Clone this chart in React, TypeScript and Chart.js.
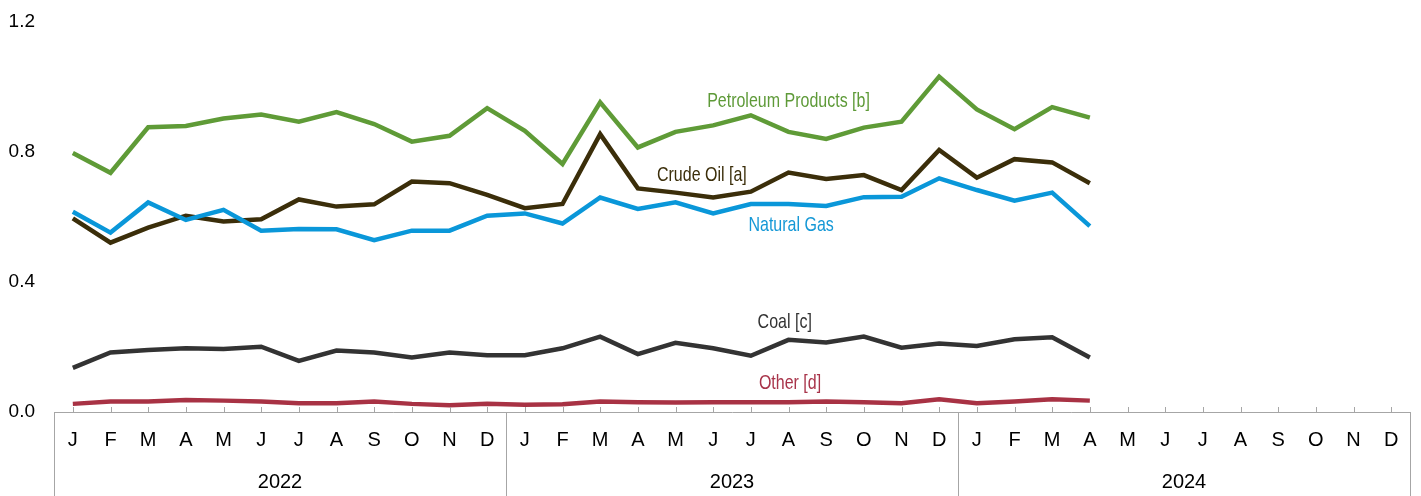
import React, { useEffect, useRef } from 'react';
import { Chart, registerables } from 'chart.js';

Chart.register(...registerables);

// ---------- data ----------
const monthLetters = ['J', 'F', 'M', 'A', 'M', 'J', 'J', 'A', 'S', 'O', 'N', 'D'];
const years = ['2022', '2023', '2024'];
const categories = years.flatMap(() => monthLetters); // 36 months, Jan 2022 – Dec 2024

const petroleumProducts = [
  0.797, 0.736, 0.876, 0.880, 0.903, 0.915, 0.893, 0.923, 0.886, 0.832, 0.850, 0.935,
  0.865, 0.763, 0.953, 0.814, 0.862, 0.882, 0.913, 0.862, 0.840, 0.875, 0.893, 1.032,
  0.931, 0.870, 0.938, 0.906,
];
const crudeOil = [
  0.596, 0.521, 0.567, 0.604, 0.586, 0.593, 0.654, 0.632, 0.639, 0.709, 0.704, 0.668,
  0.627, 0.640, 0.855, 0.688, 0.675, 0.660, 0.678, 0.737, 0.717, 0.729, 0.683, 0.806,
  0.721, 0.778, 0.768, 0.704,
];
const naturalGas = [
  0.616, 0.552, 0.645, 0.591, 0.622, 0.558, 0.563, 0.562, 0.529, 0.558, 0.558, 0.604,
  0.611, 0.580, 0.660, 0.625, 0.645, 0.611, 0.640, 0.640, 0.634, 0.661, 0.662, 0.719,
  0.683, 0.650, 0.675, 0.572,
];
const coal = [
  0.136, 0.183, 0.191, 0.196, 0.194, 0.201, 0.157, 0.189, 0.183, 0.168, 0.183, 0.175,
  0.175, 0.196, 0.232, 0.178, 0.213, 0.196, 0.173, 0.222, 0.214, 0.232, 0.198, 0.211,
  0.203, 0.224, 0.230, 0.168,
];
const other = [
  0.025, 0.032, 0.032, 0.037, 0.035, 0.032, 0.027, 0.027, 0.032, 0.025, 0.021, 0.025,
  0.022, 0.024, 0.032, 0.030, 0.029, 0.030, 0.030, 0.030, 0.032, 0.030, 0.027, 0.039,
  0.027, 0.032, 0.039, 0.035,
];
const yTickValues = [0, 0.4, 0.8, 1.2];

// inline series labels: anchored at (month index, value)
const seriesLabels = [
  { text: 'Petroleum Products [b]', color: '#5E9A38', at: 19.0, value: 0.957 },
  { text: 'Crude Oil [a]', color: '#3B2E0A', at: 16.7, value: 0.729 },
  { text: 'Natural Gas', color: '#1598D6', at: 19.07, value: 0.575 },
  { text: 'Coal [c]', color: '#333333', at: 18.9, value: 0.277 },
  { text: 'Other [d]', color: '#A8344A', at: 19.04, value: 0.089 },
];

const FONT = '"Liberation Sans", Arial, Helvetica, sans-serif';
const AXIS_GREY = '#A6A6A6';

const decorPlugin = {
  id: 'decor',
  afterDatasetsDraw(chart: any) {
    const { ctx } = chart;
    const x = chart.scales.x;
    const y = chart.scales.y;
    ctx.save();
    ctx.font = `16px ${FONT}`;
    ctx.textAlign = 'center';
    ctx.textBaseline = 'middle';
    for (const l of seriesLabels) {
      ctx.save();
      ctx.translate(x.getPixelForValue(l.at), y.getPixelForValue(l.value));
      ctx.scale(1, 1.3);
      ctx.fillStyle = l.color;
      ctx.fillText(l.text, 0, 0);
      ctx.restore();
    }
    ctx.restore();
  },
  afterDraw(chart: any) {
    const { ctx, chartArea } = chart;
    const x = chart.scales.x;
    const step = x.getPixelForValue(1) - x.getPixelForValue(0);
    const bottom = chartArea.bottom;
    ctx.save();
    ctx.strokeStyle = AXIS_GREY;
    ctx.lineWidth = 1;
    ctx.beginPath();
    for (let i = 0; i < categories.length; i++) {
      const px = Math.round(x.getPixelForValue(i)) + 0.5;
      ctx.moveTo(px, bottom - 5);
      ctx.lineTo(px, bottom);
    }
    for (let k = 0; k <= years.length; k++) {
      const px = Math.round(x.getPixelForValue(k * 12) - step / 2) + 0.5;
      ctx.moveTo(px, bottom);
      ctx.lineTo(px, chart.height);
    }
    ctx.stroke();
    ctx.restore();
  },
};

const mk = (label: string, data: number[], color: string) => ({
  label,
  data,
  borderColor: color,
  backgroundColor: color,
  borderWidth: 4.5,
  pointRadius: 0,
  tension: 0,
  fill: false,
  xAxisID: 'x',
  yAxisID: 'y',
});

export default function App() {
  const ref = useRef<HTMLCanvasElement>(null);
  useEffect(() => {
    if (!ref.current) return;
    const chart = new Chart(ref.current, {
      type: 'line',
      data: {
        labels: categories,
        datasets: [
          mk('Other [d]', other, '#A83244'),
          mk('Coal [c]', coal, '#333333'),
          mk('Natural Gas', naturalGas, '#0A97D9'),
          mk('Crude Oil [a]', crudeOil, '#3B2E0A'),
          mk('Petroleum Products [b]', petroleumProducts, '#5F9B37'),
        ],
      },
      options: {
        animation: false,
        responsive: true,
        maintainAspectRatio: false,
        layout: { padding: { left: 8, right: 11, top: 22, bottom: 0 } },
        plugins: { legend: { display: false }, tooltip: { enabled: false } },
        scales: {
          x: {
            type: 'category',
            position: 'bottom',
            weight: 0,
            offset: true,
            grid: { display: false, drawTicks: false },
            border: { display: true, color: AXIS_GREY, width: 1 },
            ticks: {
              color: '#000',
              font: { family: FONT, size: 20 },
              padding: 16,
              maxRotation: 0,
              autoSkip: false,
            },
            afterFit: (s: any) => { s.height = 50; s.paddingLeft = 0; s.paddingRight = 0; },
          },
          x2: {
            type: 'category',
            position: 'bottom',
            weight: 1,
            labels: years,
            offset: true,
            grid: { display: false, drawTicks: false },
            border: { display: false },
            ticks: {
              color: '#000',
              font: { family: FONT, size: 20 },
              padding: 8,
              maxRotation: 0,
              autoSkip: false,
            },
            afterFit: (s: any) => { s.height = 34; s.paddingLeft = 0; s.paddingRight = 0; },
          },
          y: {
            type: 'linear',
            min: 0,
            max: 1.2,
            grid: { display: false, drawTicks: false },
            border: { display: false },
            afterBuildTicks: (s: any) => { s.ticks = yTickValues.map((v) => ({ value: v })); },
            ticks: {
              color: '#000',
              font: { family: FONT, size: 19 },
              padding: 19,
              callback: (v: any) => Number(v).toFixed(1),
            },
            afterFit: (s: any) => { s.width = 46; s.paddingTop = 0; s.paddingBottom = 0; },
          },
        },
      },
      plugins: [decorPlugin],
    });
    return () => chart.destroy();
  }, []);
  return (
    <div style={{ position: 'fixed', left: 0, top: 0, width: 1421, height: 496, background: '#fff' }}>
      <canvas ref={ref} />
    </div>
  );
}
